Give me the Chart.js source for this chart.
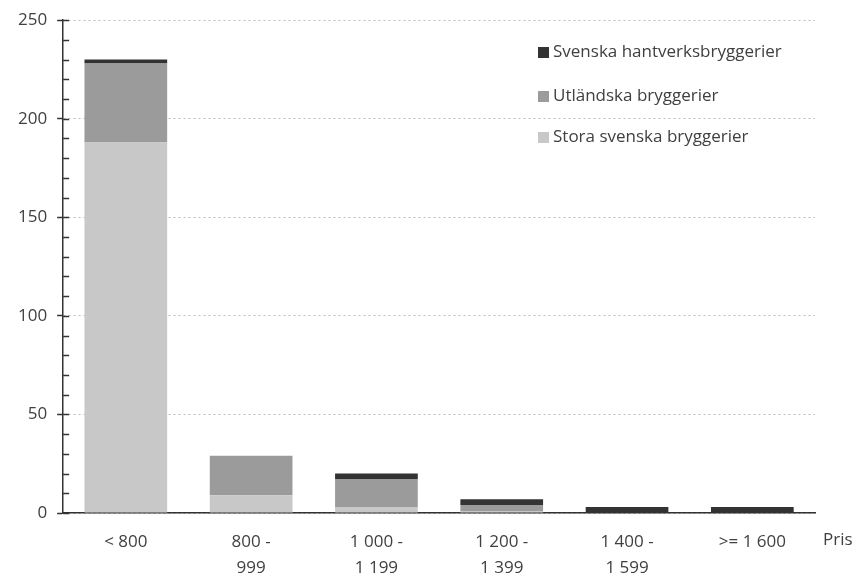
<!DOCTYPE html>
<html lang="sv">
<head>
    <meta charset="UTF-8">
    <title>Antal öl per prisklass</title>
    <style>
        body { margin: 0; background: #fff; }
        #wrap { width: 857px; height: 576px; }
    </style>
</head>
<body>
    <div id="wrap"><canvas id="chart"></canvas></div>

    <script src="https://cdn.jsdelivr.net/npm/chart.js"></script>
    <script>
        // data
        const categories = [["< 800"], ["800 -", "999"], ["1 000 -", "1 199"], ["1 200 -", "1 399"], ["1 400 -", "1 599"], [">= 1 600"]];
        const storaSvenska = [188, 9, 3, 1, 0, 0];
        const utlandska = [40, 20, 14, 3, 0, 0];
        const hantverk = [2, 0, 3, 3, 3, 3];
        const seriesNames = ["Stora svenska bryggerier", "Utländska bryggerier", "Svenska hantverksbryggerier"];
        const yTicks = [0, 50, 100, 150, 200, 250];

        const colors = ["#c8c8c8", "#9b9b9b", "#333333"];
        const fontFamily = "'Open Sans', sans-serif";
        const textColor = "#404040";

        // minor ticks, legend inside the plot and the "Pris" label
        const extras = {
            id: "extras",
            afterDraw(chart) {
                const ctx = chart.ctx;
                const y = chart.scales.y;
                const area = chart.chartArea;
                ctx.save();
                ctx.strokeStyle = "#333";
                ctx.lineWidth = 1.5;
                for (let v = 0; v <= 250; v += 10) {
                    const py = Math.round(y.getPixelForValue(v)) + 0.5;
                    ctx.beginPath();
                    ctx.moveTo(area.left, py);
                    ctx.lineTo(area.left + 6, py);
                    ctx.stroke();
                }

                // legend, reversed order like the original
                ctx.font = "17px " + fontFamily;
                ctx.textBaseline = "middle";
                const lx = 538;
                const rows = [52, 96, 137];
                for (let i = 0; i < 3; i++) {
                    const ds = chart.data.datasets[2 - i];
                    ctx.fillStyle = ds.backgroundColor;
                    ctx.fillRect(lx, rows[i] - 5, 11, 11);
                    ctx.fillStyle = textColor;
                    ctx.fillText(ds.label, lx + 15, rows[i]);
                }

                ctx.fillText("Pris", area.right + 8, area.bottom + 27);
                ctx.restore();
            }
        };

        new Chart(document.getElementById("chart"), {
            type: "bar",
            data: {
                labels: categories,
                datasets: [
                    { label: seriesNames[0], data: storaSvenska, backgroundColor: colors[0] },
                    { label: seriesNames[1], data: utlandska, backgroundColor: colors[1] },
                    { label: seriesNames[2], data: hantverk, backgroundColor: colors[2] }
                ]
            },
            options: {
                responsive: true,
                maintainAspectRatio: false,
                animation: false,
                layout: { padding: { top: 1, right: 42, left: 8, bottom: 0 } },
                datasets: {
                    bar: { barPercentage: 0.66, categoryPercentage: 1, borderWidth: 0 }
                },
                plugins: {
                    legend: { display: false },
                    tooltip: { enabled: false }
                },
                scales: {
                    x: {
                        stacked: true,
                        grid: { display: false },
                        border: { color: "#333", width: 1.5 },
                        afterFit(scale) { scale.height = 63; },
                        ticks: {
                            color: textColor,
                            font: { family: fontFamily, size: 17, lineHeight: 1.53 },
                            padding: 8,
                            maxRotation: 0
                        }
                    },
                    y: {
                        stacked: true,
                        min: 0,
                        max: 250,
                        afterBuildTicks(scale) {
                            scale.ticks = yTicks.map(v => ({ value: v }));
                        },
                        grid: {
                            color: "#bdbdbd",
                            lineWidth: 1,
                            tickColor: "#333",
                            tickLength: 6,
                            tickWidth: 1.5
                        },
                        border: { color: "#333", width: 1.5, dash: [2, 3] },
                        ticks: {
                            color: textColor,
                            font: { family: fontFamily, size: 17 },
                            padding: 10
                        }
                    }
                }
            },
            plugins: [extras]
        });
    </script>
</body>
</html>
